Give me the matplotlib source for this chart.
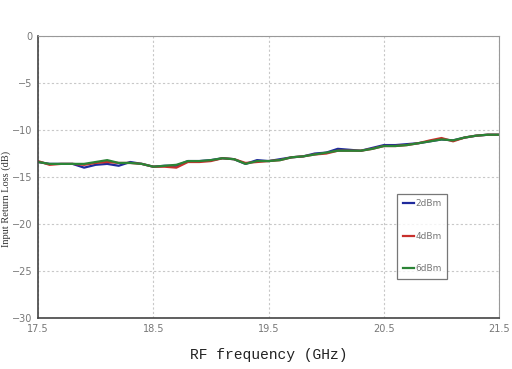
import numpy as np
import matplotlib
matplotlib.use("Agg")
import matplotlib.pyplot as plt

# data
freq = [17.5, 17.6, 17.7, 17.8, 17.9, 18.0, 18.1, 18.2, 18.3, 18.4,
        18.5, 18.6, 18.7, 18.8, 18.9, 19.0, 19.1, 19.2, 19.3, 19.4,
        19.5, 19.6, 19.7, 19.8, 19.9, 20.0, 20.1, 20.2, 20.3, 20.4,
        20.5, 20.6, 20.7, 20.8, 20.9, 21.0, 21.1, 21.2, 21.3, 21.4, 21.5]

rl_2dbm = [-13.4, -13.6, -13.6, -13.6, -14.0, -13.7, -13.6, -13.8, -13.4, -13.6,
           -13.9, -13.8, -13.8, -13.3, -13.3, -13.2, -13.0, -13.1, -13.6, -13.2,
           -13.3, -13.1, -12.9, -12.8, -12.5, -12.4, -12.0, -12.1, -12.2, -11.9,
           -11.6, -11.6, -11.5, -11.4, -11.2, -11.0, -11.1, -10.8, -10.6, -10.5, -10.5]

rl_4dbm = [-13.3, -13.7, -13.6, -13.6, -13.7, -13.5, -13.4, -13.5, -13.5, -13.6,
           -13.9, -13.9, -14.0, -13.4, -13.4, -13.3, -13.0, -13.1, -13.5, -13.4,
           -13.3, -13.2, -12.9, -12.8, -12.6, -12.5, -12.2, -12.2, -12.2, -12.0,
           -11.7, -11.7, -11.6, -11.4, -11.1, -10.85, -11.2, -10.8, -10.6, -10.5, -10.5]

rl_6dbm = [-13.4, -13.6, -13.6, -13.6, -13.6, -13.4, -13.2, -13.5, -13.5, -13.6,
           -13.9, -13.8, -13.7, -13.3, -13.3, -13.2, -13.0, -13.1, -13.6, -13.3,
           -13.3, -13.2, -12.9, -12.8, -12.6, -12.4, -12.2, -12.2, -12.2, -12.0,
           -11.7, -11.7, -11.6, -11.4, -11.2, -11.0, -11.1, -10.8, -10.6, -10.5, -10.5]

x_ticks = [17.5, 18.5, 19.5, 20.5, 21.5]
y_ticks = [0, -5, -10, -15, -20, -25, -30]

fig = plt.figure(figsize=(5.12, 3.69), dpi=100)
ax = fig.add_axes([0.0742, 0.138, 0.9008, 0.7644])

ax.plot(freq, rl_2dbm, color="#1f2a9c", lw=1.6, label="2dBm")
ax.plot(freq, rl_4dbm, color="#c8302c", lw=1.6, label="4dBm")
ax.plot(freq, rl_6dbm, color="#2b8436", lw=1.6, label="6dBm")

ax.set_xlim(17.5, 21.5)
ax.set_ylim(-30, 0)
ax.set_xticks(x_ticks)
ax.set_xticklabels(["%.1f" % v for v in x_ticks])
ax.set_yticks(y_ticks)
ax.set_yticklabels([("\u2212%d" % -v) if v else "0" for v in y_ticks])
ax.tick_params(length=0, labelsize=7, labelcolor="#777777", pad=4)
ax.grid(True, color="#c8c8c8", linestyle=(0, (2, 2)), lw=0.8)

for side in ["top", "right"]:
    ax.spines[side].set_color("#999999")
    ax.spines[side].set_linewidth(0.8)
for side in ["left", "bottom"]:
    ax.spines[side].set_color("#444444")
    ax.spines[side].set_linewidth(1.2)

ax.set_xlabel("RF frequency (GHz)", family="Liberation Mono", fontsize=10.5,
              color="#222222", labelpad=10)
fig.text(0.012, 0.46, "Input Return Loss (dB)", rotation=90, ha="center",
         va="center", family="Liberation Serif", fontsize=7.5, color="#333333")

leg = ax.legend(loc="upper left", bbox_to_anchor=(0.779, 0.44), fontsize=6.5,
                frameon=True, fancybox=False, handlelength=1.3, handletextpad=0.1,
                labelspacing=2.6, borderpad=0.6, borderaxespad=0)
leg.get_frame().set_edgecolor("#555555")
leg.get_frame().set_linewidth(0.9)
for t in leg.get_texts():
    t.set_color("#777777")

fig.savefig("out.png", dpi=100)
